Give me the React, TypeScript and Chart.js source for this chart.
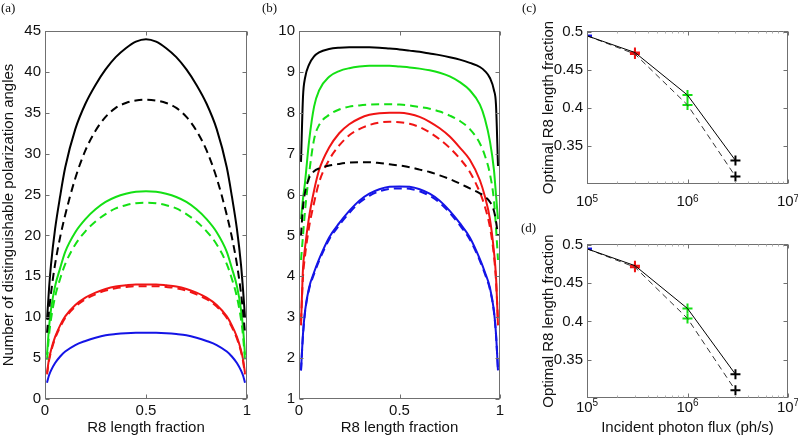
import React, { useEffect, useRef } from "react";
import { Chart, registerables } from "chart.js";
Chart.register(...registerables);

const FONT = "'Liberation Sans', Arial, Helvetica, sans-serif";
const SERIF = "'Liberation Serif', 'Times New Roman', serif";
const INK = "#111111";
const BLACK = "#000000";
const GREEN = "#14e014";
const RED = "#f01414";
const BLUE = "#1414e6";

// ---------- data: panels (a) and (b) ----------
const lengthFraction = [0.01, 0.02, 0.03, 0.05, 0.075, 0.1, 0.15, 0.2, 0.25, 0.3, 0.35, 0.4, 0.45, 0.5, 0.55, 0.6, 0.65, 0.7, 0.75, 0.8, 0.85, 0.9, 0.925, 0.95, 0.97, 0.98, 0.99];

const aBlackSolid = [9.7, 13.5, 16.5, 20.8, 24.8, 28.3, 33.0, 36.1, 38.4, 40.3, 41.8, 42.9, 43.7, 44.0, 43.7, 42.9, 41.8, 40.3, 38.4, 36.1, 33.0, 28.3, 24.8, 20.8, 16.5, 13.5, 10.0];
const aBlackDashed = [8.1, 10.8, 13.0, 16.5, 19.8, 22.5, 27.0, 30.4, 32.8, 34.5, 35.6, 36.2, 36.5, 36.6, 36.5, 36.2, 35.6, 34.5, 32.8, 30.4, 27.0, 22.5, 19.8, 16.5, 13.0, 10.8, 8.1];
const aGreenSolid = [5.4, 8.8, 11.0, 13.8, 16.0, 18.0, 20.4, 22.0, 23.2, 24.1, 24.7, 25.1, 25.35, 25.4, 25.35, 25.1, 24.7, 24.1, 23.2, 22.0, 20.4, 18.0, 16.0, 13.8, 11.0, 8.8, 5.4];
const aGreenDashed = [4.8, 7.8, 9.8, 12.5, 14.7, 16.5, 18.9, 20.5, 21.7, 22.6, 23.3, 23.7, 23.95, 24.0, 23.95, 23.7, 23.3, 22.6, 21.7, 20.5, 18.9, 16.5, 14.7, 12.5, 9.8, 7.8, 4.8];
const aRedSolid = [3.2, 4.9, 6.0, 7.6, 9.0, 10.1, 11.5, 12.4, 13.0, 13.45, 13.75, 13.9, 14.0, 14.0, 14.0, 13.9, 13.75, 13.45, 13.0, 12.4, 11.5, 10.1, 9.0, 7.6, 6.0, 4.9, 3.2];
const aRedDashed = [3.0, 4.7, 5.8, 7.4, 8.8, 9.9, 11.3, 12.2, 12.8, 13.25, 13.55, 13.7, 13.8, 13.8, 13.8, 13.7, 13.55, 13.25, 12.8, 12.2, 11.3, 9.9, 8.8, 7.4, 5.8, 4.7, 3.0];
const aBlue = [2.0, 2.9, 3.5, 4.4, 5.2, 5.8, 6.6, 7.1, 7.5, 7.8, 7.95, 8.05, 8.1, 8.1, 8.1, 8.05, 7.95, 7.8, 7.5, 7.1, 6.6, 5.8, 5.2, 4.4, 3.5, 2.9, 2.0];

const bBlackSolid = [6.8, 8.4, 8.85, 9.18, 9.38, 9.48, 9.56, 9.59, 9.6, 9.6, 9.6, 9.59, 9.57, 9.55, 9.52, 9.49, 9.45, 9.41, 9.36, 9.3, 9.22, 9.12, 9.02, 8.85, 8.55, 8.2, 6.7];
const bBlackDashed = [5.0, 5.7, 6.05, 6.4, 6.57, 6.64, 6.71, 6.75, 6.78, 6.79, 6.79, 6.77, 6.74, 6.71, 6.67, 6.61, 6.55, 6.47, 6.38, 6.27, 6.15, 6.03, 5.95, 5.82, 5.6, 5.35, 5.0];
const bGreenSolid = [5.4, 5.9, 6.3, 7.3, 8.15, 8.55, 8.88, 9.02, 9.09, 9.13, 9.15, 9.15, 9.15, 9.13, 9.11, 9.08, 9.04, 8.98, 8.89, 8.75, 8.55, 8.2, 7.85, 7.3, 6.6, 6.0, 5.4];
const bGreenDashed = [4.4, 5.0, 5.6, 6.5, 7.35, 7.7, 7.95, 8.08, 8.15, 8.18, 8.2, 8.21, 8.21, 8.2, 8.18, 8.14, 8.1, 8.03, 7.93, 7.8, 7.6, 7.25, 6.95, 6.5, 5.85, 5.2, 4.4];
const bRedSolid = [2.8, 4.2, 4.7, 5.45, 6.1, 6.6, 7.15, 7.5, 7.72, 7.86, 7.95, 7.99, 8.0, 8.0, 7.97, 7.9, 7.78, 7.62, 7.42, 7.15, 6.85, 6.35, 5.95, 5.4, 4.6, 4.0, 2.8];
const bRedDashed = [2.9, 4.0, 4.5, 5.2, 5.8, 6.3, 6.85, 7.2, 7.45, 7.6, 7.7, 7.76, 7.78, 7.77, 7.73, 7.65, 7.52, 7.35, 7.14, 6.88, 6.55, 6.05, 5.7, 5.2, 4.5, 3.9, 2.9];
const bBlueSolid = [1.7, 2.6, 3.15, 3.72, 4.1, 4.42, 4.95, 5.3, 5.6, 5.85, 6.02, 6.13, 6.19, 6.2, 6.19, 6.13, 6.02, 5.85, 5.6, 5.3, 4.95, 4.42, 4.1, 3.72, 3.15, 2.6, 1.7];
const bBlueDashed = [1.7, 2.58, 3.12, 3.68, 4.06, 4.38, 4.9, 5.25, 5.55, 5.8, 5.97, 6.08, 6.14, 6.15, 6.14, 6.08, 5.97, 5.8, 5.55, 5.25, 4.9, 4.38, 4.06, 3.68, 3.12, 2.58, 1.7];

const fracTicks = [0, 0.5, 1];
const aYTicks = [0, 5, 10, 15, 20, 25, 30, 35, 40, 45];
const bYTicks = [1, 2, 3, 4, 5, 6, 7, 8, 9, 10];

// ---------- data: panels (c) and (d) ----------
const photonFlux = [1e5, 3e5, 1e6, 3e6];
const optimalSolidC = [0.495, 0.473, 0.417, 0.331];
const optimalDashedC = [0.495, 0.471, 0.404, 0.31];
const optimalSolidD = [0.495, 0.473, 0.417, 0.331];
const optimalDashedD = [0.495, 0.471, 0.404, 0.31];
const markerColors = [BLUE, RED, GREEN, BLACK];
const fluxTicks = [1e5, 1e6, 1e7];
const fluxMinorTicks = [2e5, 3e5, 4e5, 5e5, 6e5, 7e5, 8e5, 9e5, 2e6, 3e6, 4e6, 5e6, 6e6, 7e6, 8e6, 9e6];
const optTicks = [0.35, 0.4, 0.45, 0.5];

// ---------- frame / inward ticks plugin ----------
const framePlugin = {
  id: "frame",
  afterDraw(chart: any, _args: any, opts: any) {
    const { ctx, chartArea } = chart;
    const xs = chart.scales.x;
    const ys = chart.scales.y;
    const L = Math.round(chartArea.left) + 0.5;
    const R = Math.round(chartArea.right) - 0.5;
    const T = Math.round(chartArea.top) + 0.5;
    const B = Math.round(chartArea.bottom) - 0.5;
    ctx.save();
    ctx.strokeStyle = "#707070";
    ctx.lineWidth = 1;
    ctx.setLineDash([]);
    ctx.strokeRect(L, T, R - L, B - T);
    const tl = opts.len || 4;
    ctx.beginPath();
    (opts.xMajor || []).forEach((v: number) => {
      const p = Math.round(xs.getPixelForValue(v)) + 0.5;
      ctx.moveTo(p, B); ctx.lineTo(p, B - tl);
      ctx.moveTo(p, T); ctx.lineTo(p, T + tl);
    });
    (opts.yMajor || []).forEach((v: number) => {
      const p = Math.round(ys.getPixelForValue(v)) + 0.5;
      ctx.moveTo(L, p); ctx.lineTo(L + tl, p);
      ctx.moveTo(R, p); ctx.lineTo(R - tl, p);
    });
    ctx.stroke();
    if (opts.xMinor) {
      ctx.strokeStyle = "#b0b0b0";
      ctx.beginPath();
      opts.xMinor.forEach((v: number) => {
        const p = Math.round(xs.getPixelForValue(v)) + 0.5;
        ctx.moveTo(p, B); ctx.lineTo(p, B - 2);
        ctx.moveTo(p, T); ctx.lineTo(p, T + 2);
      });
      ctx.stroke();
    }
    if (opts.logLabels) {
      const ll = opts.logLabels;
      ctx.fillStyle = INK;
      ctx.textAlign = "left";
      ctx.textBaseline = "alphabetic";
      ll.values.forEach((v: number) => {
        const exp = String(Math.round(Math.log10(v)));
        ctx.font = `15px ${FONT}`;
        const w1 = ctx.measureText("10").width;
        ctx.font = `10px ${FONT}`;
        const w2 = ctx.measureText(exp).width;
        const x0 = xs.getPixelForValue(v) - (w1 + w2) / 2;
        ctx.font = `15px ${FONT}`;
        ctx.fillText("10", x0, chartArea.bottom + ll.base);
        ctx.font = `10px ${FONT}`;
        ctx.fillText(exp, x0 + w1, chartArea.bottom + ll.expBase);
      });
    }
    ctx.restore();
  },
};

// ---------- helpers ----------
const curve = (ys: number[], color: string, dashed: boolean) => ({
  data: lengthFraction.map((x, i) => ({ x, y: ys[i] })),
  borderColor: color,
  borderWidth: 2,
  borderDash: dashed ? [8, 5] : [],
  pointRadius: 0,
  fill: false,
  cubicInterpolationMode: "monotone",
});

const fracScale = (height: number) => ({
  type: "linear",
  min: 0,
  max: 1,
  afterBuildTicks: (s: any) => { s.ticks = fracTicks.map((v) => ({ value: v })); },
  afterFit: (s: any) => { s.height = height; },
  grid: { display: false, drawTicks: false },
  border: { display: false },
  ticks: { color: INK, font: { family: FONT, size: 15 }, padding: 3, maxRotation: 0, autoSkip: false, callback: (v: any) => String(v) },
  title: { display: true, text: "R8 length fraction", color: INK, font: { family: FONT, size: 15 }, padding: { top: 0, bottom: 0 } },
});

const valueScale = (min: number, max: number, ticks: number[], width: number, title?: string) => ({
  type: "linear",
  min,
  max,
  afterBuildTicks: (s: any) => { s.ticks = ticks.map((v) => ({ value: v })); },
  afterFit: (s: any) => { s.width = width; },
  grid: { display: false, drawTicks: false },
  border: { display: false },
  ticks: { color: INK, font: { family: FONT, size: 15 }, padding: 4, autoSkip: false, callback: (v: any) => String(v) },
  title: title
    ? { display: true, text: title, color: INK, font: { family: FONT, size: 15 }, padding: { top: 0, bottom: 0 } }
    : { display: false },
});

const baseOptions = (padding: any, frame: any, scales: any) => ({
  responsive: false,
  animation: false,
  devicePixelRatio: 1,
  layout: { padding },
  plugins: { legend: { display: false }, tooltip: { enabled: false }, frame },
  scales,
});

const configA = () => ({
  type: "line",
  data: {
    datasets: [
      curve(aBlackSolid, BLACK, false),
      curve(aBlackDashed, BLACK, true),
      curve(aGreenSolid, GREEN, false),
      curve(aGreenDashed, GREEN, true),
      curve(aRedSolid, RED, false),
      curve(aRedDashed, RED, true),
      curve(aBlue, BLUE, false),
    ],
  },
  options: baseOptions(
    { left: 0, top: 31, right: 13, bottom: 0 },
    { xMajor: fracTicks, yMajor: aYTicks, len: 4 },
    { x: fracScale(38), y: valueScale(0, 45, aYTicks, 45, "Number of distinguishable polarization angles") }
  ),
  plugins: [framePlugin],
});

const configB = () => ({
  type: "line",
  data: {
    datasets: [
      curve(bBlackSolid, BLACK, false),
      curve(bBlackDashed, BLACK, true),
      curve(bGreenSolid, GREEN, false),
      curve(bGreenDashed, GREEN, true),
      curve(bRedSolid, RED, false),
      curve(bRedDashed, RED, true),
      curve(bBlueSolid, BLUE, false),
      curve(bBlueDashed, BLUE, true),
    ],
  },
  options: baseOptions(
    { left: 0, top: 31, right: 40, bottom: 0 },
    { xMajor: fracTicks, yMajor: bYTicks, len: 4 },
    { x: fracScale(38), y: valueScale(1, 10, bYTicks, 39) }
  ),
  plugins: [framePlugin],
});

const configOpt = (solid: number[], dashed: number[], topPad: number, xHeight: number, xTitle: boolean, base: number, expBase: number) => ({
  type: "line",
  data: {
    datasets: [
      { data: photonFlux.map((x, i) => ({ x, y: solid[i] })), borderColor: BLACK, borderWidth: 1, pointRadius: 0, fill: false },
      { data: photonFlux.map((x, i) => ({ x, y: dashed[i] })), borderColor: "#333333", borderWidth: 1, borderDash: [6, 4], pointRadius: 0, fill: false },
      { data: photonFlux.map((x, i) => ({ x, y: solid[i] })), showLine: false, pointStyle: "cross", pointRadius: 5, pointBorderWidth: 2, pointBorderColor: markerColors, borderColor: markerColors },
      { data: photonFlux.map((x, i) => ({ x, y: dashed[i] })), showLine: false, pointStyle: "cross", pointRadius: 5, pointBorderWidth: 2, pointBorderColor: markerColors, borderColor: markerColors },
    ],
  },
  options: baseOptions(
    { left: 0, top: topPad, right: 10, bottom: 0 },
    { xMajor: fluxTicks, xMinor: fluxMinorTicks, yMajor: optTicks, len: 4, logLabels: { values: fluxTicks, base, expBase } },
    {
      x: {
        type: "logarithmic",
        min: 1e5,
        max: 1e7,
        afterFit: (s: any) => { s.height = xHeight; },
        grid: { display: false, drawTicks: false },
        border: { display: false },
        ticks: { display: false },
        title: xTitle
          ? { display: true, text: "Incident photon flux (ph/s)", color: INK, font: { family: FONT, size: 15 }, padding: { top: 0, bottom: 0 } }
          : { display: false },
      },
      y: valueScale(0.3, 0.5013, optTicks, 47, "Optimal R8 length fraction"),
    }
  ),
  plugins: [framePlugin],
});

function Panel(props: { left: number; top: number; width: number; height: number; build: () => any }) {
  const ref = useRef<HTMLCanvasElement>(null);
  useEffect(() => {
    const chart = new Chart(ref.current as HTMLCanvasElement, props.build());
    return () => chart.destroy();
  }, []);
  return (
    <canvas
      ref={ref}
      width={props.width}
      height={props.height}
      style={{ position: "absolute", left: props.left, top: props.top, width: props.width, height: props.height }}
    />
  );
}

const panelLabel = (left: number, top: number): React.CSSProperties => ({
  position: "absolute",
  left,
  top,
  fontFamily: SERIF,
  fontSize: 13,
  lineHeight: "15px",
  color: INK,
});

export default function App() {
  return (
    <div style={{ position: "absolute", left: 0, top: 0, width: 798, height: 437, background: "#ffffff", overflow: "hidden" }}>
      <Panel left={0} top={0} width={260} height={437} build={configA} />
      <Panel left={260} top={0} width={280} height={437} build={configB} />
      <Panel left={540} top={0} width={258} height={220} build={() => configOpt(optimalSolidC, optimalDashedC, 31, 36, false, 22, 18)} />
      <Panel left={540} top={220} width={258} height={217} build={() => configOpt(optimalSolidD, optimalDashedD, 24, 39, true, 14, 8)} />
      <div style={panelLabel(1, 0)}>(a)</div>
      <div style={panelLabel(262, 0)}>(b)</div>
      <div style={panelLabel(522, 0)}>(c)</div>
      <div style={panelLabel(521, 220)}>(d)</div>
    </div>
  );
}
